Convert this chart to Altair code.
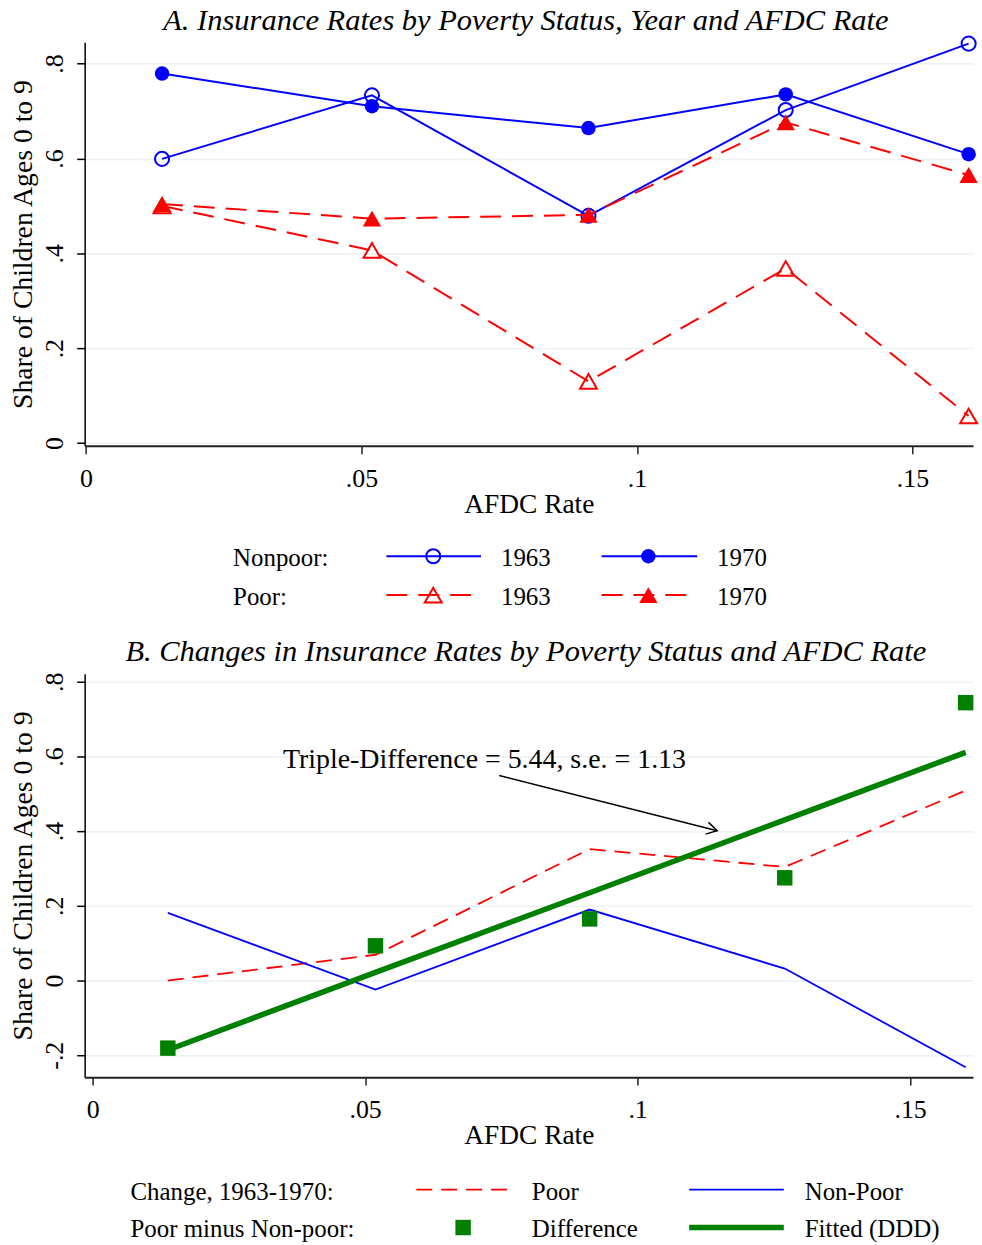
import altair as alt
import pandas as pd

# AFDC rate of the five groups of states (x position in both panels)
afdc_rate = [0.0138, 0.0519, 0.0912, 0.1270, 0.1602]

# Panel A: share of children 0-9 with insurance
nonpoor_1963 = [0.599, 0.733, 0.479, 0.702, 0.842]
nonpoor_1970 = [0.779, 0.710, 0.664, 0.735, 0.609]
poor_1963 = [0.500, 0.406, 0.130, 0.368, 0.057]
poor_1970 = [0.504, 0.473, 0.481, 0.676, 0.565]

# Panel B: changes 1963-1970 and the poor minus non-poor difference
change_poor = [0.000, 0.069, 0.352, 0.304, 0.509]
change_nonpoor = [0.181, -0.024, 0.190, 0.032, -0.232]
difference = [-0.181, 0.093, 0.165, 0.275, 0.744]
fitted_ddd = [-0.186, 0.022, 0.235, 0.430, 0.611]

x_ticks = [0, 0.05, 0.1, 0.15]
y_ticks_a = [0, 0.2, 0.4, 0.6, 0.8]
y_ticks_b = [-0.2, 0, 0.2, 0.4, 0.6, 0.8]

title_a = "A. Insurance Rates by Poverty Status, Year and AFDC Rate"
title_b = "B. Changes in Insurance Rates by Poverty Status and AFDC Rate"
note_b = "Triple-Difference = 5.44, s.e. = 1.13"

FONT = "Liberation Serif"
BLUE = "#0000FF"
RED = "#FF0000"
GREEN = "#008000"
GRID = "#EAF2F3"
W, H = 892, 405

# Stata-style tick labels: ".2", "-.2", "0"
TICK_LABEL = ("datum.value == 0 ? '0' : (datum.value < 0 ? '-' + substring(format(-datum.value, '.2~f'), 1)"
              " : substring(format(datum.value, '.2~f'), 1))")

ONE = pd.DataFrame({"k": [0]})


def frame(values):
    return pd.DataFrame({"afdc": afdc_rate, "share": values})


def x_enc(domain):
    return alt.X(
        "afdc:Q",
        scale=alt.Scale(domain=domain, nice=False, zero=False),
        axis=alt.Axis(
            values=x_ticks, labelExpr=TICK_LABEL, title="AFDC Rate", grid=False,
            domainColor="#222222", domainWidth=2, tickColor="#222222", tickWidth=1.5, tickSize=8,
            labelFont=FONT, labelFontSize=26, labelColor="black", labelPadding=12,
            labelFlush=False, labelOverlap=False,
            titleFont=FONT, titleFontSize=27.5, titleFontWeight="normal", titleColor="black",
            titleBaseline="alphabetic", titleY=67, titleX=W / 2,
        ),
    )


def y_enc(domain, ticks):
    return alt.Y(
        "share:Q",
        scale=alt.Scale(domain=domain, nice=False, zero=False),
        axis=alt.Axis(
            values=ticks, labelExpr=TICK_LABEL, title="Share of Children Ages 0 to 9",
            grid=True, gridColor=GRID, gridWidth=1.5,
            domainColor="black", domainWidth=1.5, tickColor="black", tickWidth=1.5, tickSize=8,
            labelFont=FONT, labelFontSize=26, labelColor="black", labelAngle=270,
            labelAlign="center", labelBaseline="alphabetic", labelPadding=14,
            labelFlush=False, labelOverlap=False,
            titleFont=FONT, titleFontSize=27.8, titleFontWeight="normal", titleColor="black",
            titleAngle=270, titleAlign="center", titleBaseline="alphabetic",
            titleX=-53, titleY=H / 2,
        ),
    )


def text_at(label, x, y, size=25, align="left", baseline="middle", style="normal"):
    return alt.Chart(ONE).mark_text(
        text=label, font=FONT, fontSize=size, align=align, baseline=baseline,
        fontStyle=style, color="black",
    ).encode(x=alt.value(x), y=alt.value(y))


def rule_at(x1, x2, y, color, width, dash=None):
    kw = dict(color=color, strokeWidth=width)
    if dash:
        kw["strokeDash"] = dash
    return alt.Chart(ONE).mark_rule(**kw).encode(x=alt.value(x1), x2=alt.value(x2), y=alt.value(y))


def point_at(x, y, **mark):
    return alt.Chart(ONE).mark_point(opacity=1, **mark).encode(x=alt.value(x), y=alt.value(y))


# ---------------- Panel A ----------------
xa = x_enc([-0.00025, 0.161])
ya = y_enc([-0.0057, 0.8447], y_ticks_a)

dash_a = [21, 11]
circle_open = dict(shape="circle", filled=False, size=200, strokeWidth=2, color=BLUE)
circle_full = dict(shape="circle", filled=True, size=210, color=BLUE)
tri_open = dict(shape="triangle-up", filled=False, size=290, strokeWidth=2, color=RED)
tri_full = dict(shape="triangle-up", filled=True, size=340, color=RED)


def series(values, line_kw, point_kw):
    base = alt.Chart(frame(values)).encode(x=xa, y=ya)
    return [base.mark_line(**line_kw), base.mark_point(opacity=1, **point_kw)]


layers_a = []
layers_a += series(nonpoor_1963, dict(color=BLUE, strokeWidth=2), circle_open)
layers_a += series(nonpoor_1970, dict(color=BLUE, strokeWidth=2), circle_full)
layers_a += series(poor_1963, dict(color=RED, strokeWidth=2, strokeDash=dash_a), tri_open)
layers_a += series(poor_1970, dict(color=RED, strokeWidth=2, strokeDash=dash_a), tri_full)

# panel title and the two-row legend under the axis
row1, row2 = 516, 555
layers_a += [
    text_at(title_a, 443, -12, size=30.6, align="center", baseline="alphabetic", style="italic"),
    text_at("Nonpoor:", 149, row1 + 2),
    text_at("Poor:", 149, row2 + 2),
    rule_at(303, 398, row1, BLUE, 2),
    point_at(350, row1, **circle_open),
    text_at("1963", 418, row1 + 2),
    rule_at(519, 615, row1, BLUE, 2),
    point_at(566, row1, **circle_full),
    text_at("1970", 635, row1 + 2),
    rule_at(303, 398, row2, RED, 2, dash_a),
    point_at(350, row2, **tri_open),
    text_at("1963", 418, row2 + 2),
    rule_at(519, 615, row2, RED, 2, dash_a),
    point_at(566, row2, **tri_full),
    text_at("1970", 635, row2 + 2),
]

panel_a = alt.layer(*layers_a).properties(width=W, height=H)

# ---------------- Panel B ----------------
xb = x_enc([-0.00146, 0.16155])
yb = y_enc([-0.2587, 0.8213], y_ticks_b)
dash_b = [16, 9]

note_df = pd.DataFrame({"afdc": [0.0719], "share": [0.570], "label": [note_b]})
arrow_df = pd.DataFrame({"afdc": [0.0746], "share": [0.549], "afdc2": [0.1146], "share2": [0.401]})
tip_df = pd.DataFrame({"afdc": [0.1146], "share": [0.401]})

layers_b = [
    alt.Chart(frame(change_poor)).mark_line(color=RED, strokeWidth=1.8, strokeDash=dash_b).encode(x=xb, y=yb),
    alt.Chart(frame(change_nonpoor)).mark_line(color=BLUE, strokeWidth=1.8).encode(x=xb, y=yb),
    alt.Chart(frame(fitted_ddd)).mark_line(color=GREEN, strokeWidth=5.5).encode(x=xb, y=yb),
    alt.Chart(frame(difference)).mark_point(shape="square", filled=True, size=240, color=GREEN, opacity=1)
    .encode(x=xb, y=yb),
    alt.Chart(note_df).mark_text(font=FONT, fontSize=28, align="center", baseline="alphabetic", color="black")
    .encode(x=xb, y=yb, text="label:N"),
    alt.Chart(arrow_df).mark_rule(color="black", strokeWidth=1.5)
    .encode(x=xb, y=yb, x2="afdc2:Q", y2="share2:Q"),
    alt.Chart(tip_df).mark_point(shape="M -1 -0.58 L 0 0 L -1 0.58", filled=False, size=440, angle=14,
                                 color="black", strokeWidth=1.5, opacity=1)
    .encode(x=xb, y=yb),
]

rowb1, rowb2 = 518, 556
layers_b += [
    text_at(title_b, 443, -13, size=30.6, align="center", baseline="alphabetic", style="italic"),
    text_at("Change, 1963-1970:", 46, rowb1 + 2),
    text_at("Poor minus Non-poor:", 46, rowb2 + 2),
    rule_at(333, 427, rowb1, RED, 1.8, dash_b),
    text_at("Poor", 449, rowb1 + 2),
    rule_at(607, 702, rowb1, BLUE, 1.8),
    text_at("Non-Poor", 723, rowb1 + 2),
    point_at(380, rowb2, shape="square", filled=True, size=240, color=GREEN),
    text_at("Difference", 449, rowb2 + 2),
    rule_at(607, 702, rowb2, GREEN, 5.5),
    text_at("Fitted (DDD)", 723, rowb2 + 2),
]

panel_b = alt.layer(*layers_b).properties(width=W, height=H)

chart = (
    alt.vconcat(panel_a, panel_b, spacing=229, bounds="flush")
    .properties(padding={"left": 9, "top": 4, "right": 0, "bottom": 0})
    .configure(font=FONT)
    .configure_view(stroke=None)
)

chart.save("out.html", embed_options={"renderer": "svg", "actions": False})
